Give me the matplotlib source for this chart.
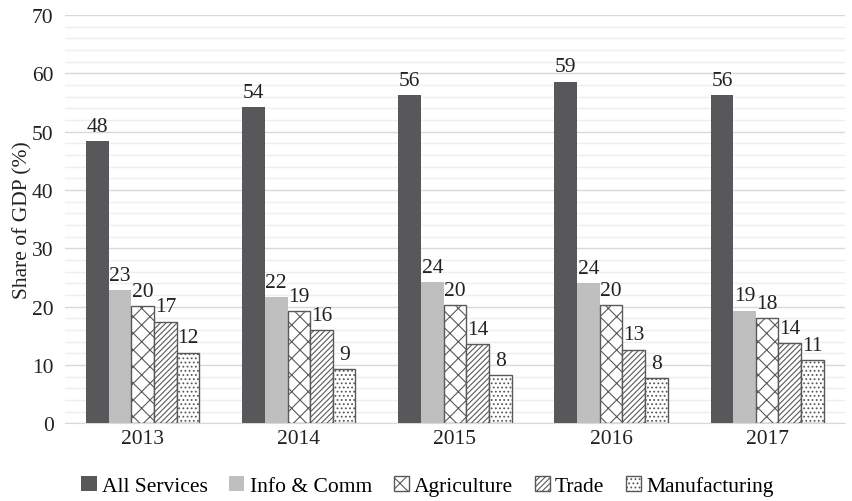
import numpy as np
import matplotlib.pyplot as plt
from matplotlib.ticker import MultipleLocator

plt.rcParams['font.family'] = ['Liberation Serif', 'DejaVu Serif']
plt.rcParams['hatch.linewidth'] = 0.8

years = ['2013', '2014', '2015', '2016', '2017']
series = ['All Services', 'Info & Comm', 'Agriculture', 'Trade', 'Manufacturing']
all_services = [48.4, 54.2, 56.3, 58.6, 56.3]
info_comm = [22.8, 21.6, 24.2, 24.0, 19.3]
agriculture = [20.1, 19.2, 20.2, 20.2, 18.0]
trade = [17.4, 15.9, 13.5, 12.6, 13.7]
manufacturing = [12.1, 9.3, 8.2, 7.7, 10.8]
values = [all_services, info_comm, agriculture, trade, manufacturing]

faces = ['#58585a', '#bfbfbf', 'white', 'white', 'white']
hatches = [None, None, 'xx', '//////', '....']
edge = '#595959'
fs = 15.5

fig = plt.figure(figsize=(8.52, 5.02), dpi=100)
ax = fig.add_axes([0.076, 0.155, 0.916, 0.813])

x = np.arange(len(years))
w = 0.145
for i, (name, vals) in enumerate(zip(series, values)):
    pos = x + (i - 2) * w
    if hatches[i] is None:
        bars = ax.bar(pos, vals, w, color=faces[i], label=name, zorder=3)
    else:
        bars = ax.bar(pos, vals, w, color=faces[i], edgecolor=edge,
                      hatch=hatches[i], linewidth=1, label=name, zorder=3)
    for b, v in zip(bars, vals):
        ax.text(b.get_x() + b.get_width() / 2, v + 0.9, '%d' % round(v),
                ha='center', va='bottom', fontsize=fs, color='#222222')

ax.set_xlim(-0.5, 4.5)
ax.set_ylim(0, 70)
ax.yaxis.set_major_locator(MultipleLocator(10))
ax.yaxis.set_minor_locator(MultipleLocator(2))
ax.grid(axis='y', which='major', color='#d9d9d9', linewidth=1, zorder=0)
ax.grid(axis='y', which='minor', color='#eeeeee', linewidth=1, zorder=0)
ax.set_xticks(x)
ax.set_xticklabels(years)
ax.tick_params(axis='both', which='both', length=0, labelsize=fs,
               colors='#222222')
ax.tick_params(axis='x', pad=4)
ax.tick_params(axis='y', pad=8)
for s in ['top', 'right', 'left']:
    ax.spines[s].set_visible(False)
ax.spines['bottom'].set_color('#d9d9d9')
ax.set_ylabel('Share of GDP (%)', fontsize=fs, color='#222222', labelpad=0)

ax.legend(loc='center', bbox_to_anchor=(0.465, -0.155), ncol=5,
          frameon=False, fontsize=fs, handlelength=0.7, handleheight=0.7,
          handletextpad=0.25, columnspacing=1.0)

plt.savefig('out.png', dpi=100)
